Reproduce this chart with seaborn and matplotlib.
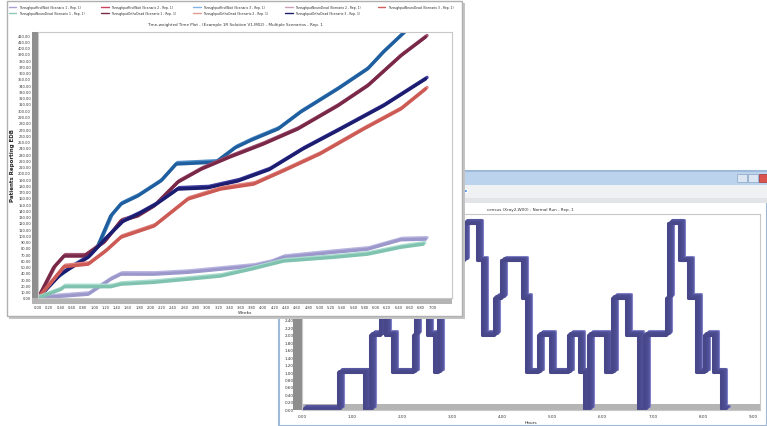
import numpy as np
import pandas as pd
import matplotlib
matplotlib.use("Agg")
import matplotlib.pyplot as plt
import matplotlib.transforms as mtrans
import matplotlib.ticker as ticker
from matplotlib.patches import Rectangle, Circle
from matplotlib.lines import Line2D
import seaborn as sns

# ---------------- data ----------------
# front window: cumulative patients over weeks, per scenario series
blue_wk = [0, 0.3, 0.6, 0.82, 1.06, 1.29, 1.47, 1.77, 2.18, 2.45, 3.16, 3.5, 3.78, 4.26, 4.66, 5.32, 5.85, 6.13, 6.52]
blue_val = [0, 30, 50, 62, 83, 131, 150, 163, 187, 214, 217, 240, 252, 270, 297, 334, 366, 393, 426]
maroon_wk = [0, 0.28, 0.46, 0.82, 1.17, 1.47, 1.77, 2.06, 2.48, 2.9, 3.4, 4.0, 4.61, 5.32, 5.85, 6.44, 6.88]
maroon_val = [0, 49, 67, 67, 89, 123, 131, 147, 185, 206, 225, 246, 270, 307, 339, 387, 417]
navy_wk = [0, 0.4, 0.89, 1.2, 1.5, 1.8, 2.1, 2.48, 3.01, 3.55, 4.1, 4.7, 5.37, 6.13, 6.88]
navy_val = [0, 38, 65, 95, 122, 135, 150, 174, 176, 187, 205, 238, 270, 307, 350]
red_wk = [0, 0.46, 0.89, 1.2, 1.47, 2.06, 2.66, 3.24, 3.83, 4.4, 5.0, 5.78, 6.44, 6.88]
red_val = [0, 50, 54, 75, 97, 115, 158, 174, 182, 205, 230, 270, 302, 334]
purple_wk = [0, 0.89, 1.29, 1.47, 2.06, 2.66, 3.24, 3.83, 4.13, 4.36, 5.25, 5.85, 6.44, 6.88]
purple_val = [0, 6, 30, 38, 38, 41, 46, 51, 57, 65, 73, 78, 93, 94]
teal_wk = [0, 0.41, 0.46, 1.29, 1.47, 2.06, 2.66, 3.24, 3.78, 4.36, 5.25, 5.85, 6.44, 6.84]
teal_val = [0, 14, 18, 18, 22, 25, 30, 35, 46, 59, 65, 70, 81, 86]

legend_names = [
    "ThroughputFirstWait (Scenario 1 - Rep. 1)", "ThroughputNeuroDead (Scenario 1 - Rep. 1)",
    "ThroughputFirstWait (Scenario 2 - Rep. 1)", "ThroughputOrthoDead (Scenario 1 - Rep. 1)",
    "ThroughputFirstWait (Scenario 3 - Rep. 1)", "ThroughputOrthoDead (Scenario 2 - Rep. 1)",
    "ThroughputNeuroDead (Scenario 2 - Rep. 1)", "ThroughputOrthoDead (Scenario 3 - Rep. 1)",
    "ThroughputNeuroDead (Scenario 3 - Rep. 1)",
]
legend_colors = ["#a5a1d3", "#8ccbb8", "#cc4060", "#7a2848", "#7fb6e6",
                 "#e09a90", "#c9a0b8", "#1c1c70", "#d0605a"]

series = [
    (legend_names[3], blue_wk, blue_val, "#1f5f9f", "#4f8cc8"),
    (legend_names[1], maroon_wk, maroon_val, "#7a2848", "#a25575"),
    (legend_names[7], navy_wk, navy_val, "#1c1c70", "#3e3ea0"),
    (legend_names[8], red_wk, red_val, "#cc5a55", "#e08580"),
    (legend_names[0], purple_wk, purple_val, "#9c98cc", "#b9b5e0"),
    (legend_names[2], teal_wk, teal_val, "#80c2b0", "#a8dccd"),
]

week_ticks = np.round(np.arange(0, 7.01, 0.2), 2)
patient_ticks = np.arange(0, 421, 10)

# back window: census step series
hours = [0.00, 0.72, 1.24, 1.36, 1.56, 1.66, 1.80, 2.22, 2.26, 2.50, 2.64, 2.72, 3.00, 3.22,
         3.50, 3.60, 3.84, 3.98, 4.40, 4.48, 4.70, 4.94, 5.30, 5.52, 5.62, 5.70, 6.04, 6.18,
         6.46, 6.70, 6.82, 7.26, 7.30, 7.52, 7.70, 7.86, 8.02, 8.20, 8.36, 8.42]
census = [0, 1, 0, 2, 3, 2, 1, 2, 3, 2, 1, 3, 4, 5, 4, 2, 3, 4, 3, 1, 2, 1, 2, 1, 0, 2, 1, 3,
          2, 0, 2, 3, 5, 4, 3, 1, 2, 1, 0, 0]
hour_ticks = np.arange(0, 10, 1)
census_ticks = np.round(np.arange(0, 2.41, 0.2), 2)   # higher ticks sit behind the front window

# ---------------- figure ----------------
sns.set_theme(style="white")
plt.rcParams["font.family"] = ["DejaVu Sans"]

W, H = 767, 427
fig = plt.figure(figsize=(W / 100, H / 100), dpi=100)
fig.patch.set_facecolor("white")


def box(x0, y0, x1, y1):
    return [x0 / W, 1 - y1 / H, (x1 - x0) / W, (y1 - y0) / H]


def frect(x0, y0, x1, y1, z, **kw):
    b = box(x0, y0, x1, y1)
    fig.add_artist(Rectangle((b[0], b[1]), b[2], b[3], transform=fig.transFigure, zorder=z, **kw))


def shift(ax, dx, dy):
    # move the last drawn line by a few pixels to fake the 3D ribbon
    ln = ax.lines[-1]
    ln.set_transform(ax.transData + mtrans.ScaledTranslation(dx / 100, dy / 100, fig.dpi_scale_trans))


# ---- back window chrome ----
frect(279, 172, 767, 427, 0.1, facecolor="white", edgecolor="#9fb9d8", lw=1.5)
frect(281, 173, 767, 186, 0.2, facecolor="#bcd3ee", edgecolor="none")
frect(281, 186, 767, 199, 0.2, facecolor="#f0f1f3", edgecolor="none")
frect(281, 199, 767, 204, 0.2, facecolor="#e2e4e8", edgecolor="none")
frect(737, 175, 747, 183, 0.3, facecolor="#dce6f2", edgecolor="#8aa4c4", lw=0.5)
frect(748, 175, 758, 183, 0.3, facecolor="#dce6f2", edgecolor="#8aa4c4", lw=0.5)
frect(759, 175, 768, 183, 0.3, facecolor="#d9534f", edgecolor="#a33", lw=0.5)
fig.add_artist(Circle((465 / W, 1 - 192 / H), 3 / W, transform=fig.transFigure,
                      facecolor="#4a90d9", zorder=0.3))
fig.text(487 / W, 1 - 210 / H, "census (Xray2,W00) - Normal Run - Rep. 1",
         fontsize=3, color="#333333", va="center", ha="left", zorder=0.3)

axr = fig.add_axes(box(302, 215, 760, 411), zorder=1)
axr.set_facecolor("white")
# grey floor band inside the bottom of the plot, under the ribbon
axr.add_patch(Rectangle((0, 0), 1, 0.03, transform=axr.transAxes,
                        facecolor="#b4b4b4", edgecolor="none", zorder=0.5))
axr.add_patch(Rectangle((-0.02, 0), 0.02, 1.0, transform=axr.transAxes,
                        facecolor="#8e8e8e", edgecolor="none", clip_on=False))
df_c = pd.DataFrame({"Hours": hours, "Census": census})
offs = [(5, 3.5, "#8282c8"), (4, 2.8, "#5a5aa2"), (3, 2.1, "#52529a"),
        (2, 1.4, "#4d4d94"), (1, 0.7, "#4b4b90"), (0, 0, "#474789")]
for dx, dy, c in offs:
    sns.lineplot(data=df_c, x="Hours", y="Census", drawstyle="steps-post",
                 color=c, lw=2.2, errorbar=None, ax=axr)
    shift(axr, dx, dy)
axr.set_xlim(0, 9.14)
axr.set_ylim(-0.02, 5.25)
axr.set_xticks(hour_ticks)
axr.set_yticks(census_ticks)
axr.xaxis.set_major_formatter(ticker.FormatStrFormatter("%.2f"))
axr.yaxis.set_major_formatter(ticker.FormatStrFormatter("%.2f"))
axr.tick_params(axis="y", labelsize=3, length=0, pad=6, colors="#333333")
axr.tick_params(axis="x", labelsize=3, length=0, pad=3, colors="#333333")
axr.set_xlabel("Hours", fontsize=3.2, labelpad=1)
axr.set_ylabel("")
for s in axr.spines.values():
    s.set_color("#c8c8c8")
    s.set_linewidth(0.8)

# ---- front window ----
frect(9, 4, 465, 320, 1.9, facecolor="#c4c4c4", edgecolor="none")
frect(7, 2, 462, 317, 2, facecolor="white", edgecolor="#b0b0b0", lw=1)

axl = fig.add_axes(box(38, 33, 452, 299), zorder=3)
axl.set_facecolor("white")
for name, wk, val, c_main, c_top in series:
    d = pd.DataFrame({"Weeks": wk, "Patients": val})
    sns.lineplot(data=d, x="Weeks", y="Patients", color=c_top, lw=2.4, errorbar=None, ax=axl)
    shift(axl, 1.5, 1.5)
    sns.lineplot(data=d, x="Weeks", y="Patients", color=c_main, lw=2.4, errorbar=None, ax=axl)

axl.set_xlim(0, 7.35)
axl.set_ylim(0, 425)
axl.set_xticks(week_ticks)
axl.set_yticks(patient_ticks)
axl.xaxis.set_major_formatter(ticker.FormatStrFormatter("%.2f"))
axl.yaxis.set_major_formatter(ticker.FormatStrFormatter("%.2f"))
axl.tick_params(labelsize=2.6, length=0, pad=5, colors="#333333")
axl.set_xlabel("Weeks", fontsize=3.2, labelpad=1)
axl.set_ylabel("Patients Reporting EDB", fontsize=4, fontweight="bold", labelpad=2)
for s in axl.spines.values():
    s.set_color("#c8c8c8")
    s.set_linewidth(0.8)
axl.add_patch(Rectangle((-0.014, -0.022), 0.014, 1.022, transform=axl.transAxes,
                        facecolor="#8e8e8e", edgecolor="none", clip_on=False))
axl.add_patch(Rectangle((-0.014, -0.022), 1.014, 0.022, transform=axl.transAxes,
                        facecolor="#b4b4b4", edgecolor="none", clip_on=False))

fig.text(235 / W, 1 - 25 / H,
         "Time-weighted Time Plot - (Example 1R Solution V1.M02) - Multiple Scenarios - Rep. 1",
         fontsize=3, color="#333333", ha="center", va="center", zorder=4)

handles = [Line2D([], [], color=c, lw=1) for c in legend_colors]
fig.legend(handles, legend_names, ncol=5, loc="upper left",
           bbox_to_anchor=(6 / W, 1 - 3 / H), fontsize=2.2, frameon=False,
           handlelength=2.5, columnspacing=5.5, labelspacing=0.9, handletextpad=0.8)
fig.legends[-1].set_zorder(4)

fig.savefig("out.png", dpi=100)
